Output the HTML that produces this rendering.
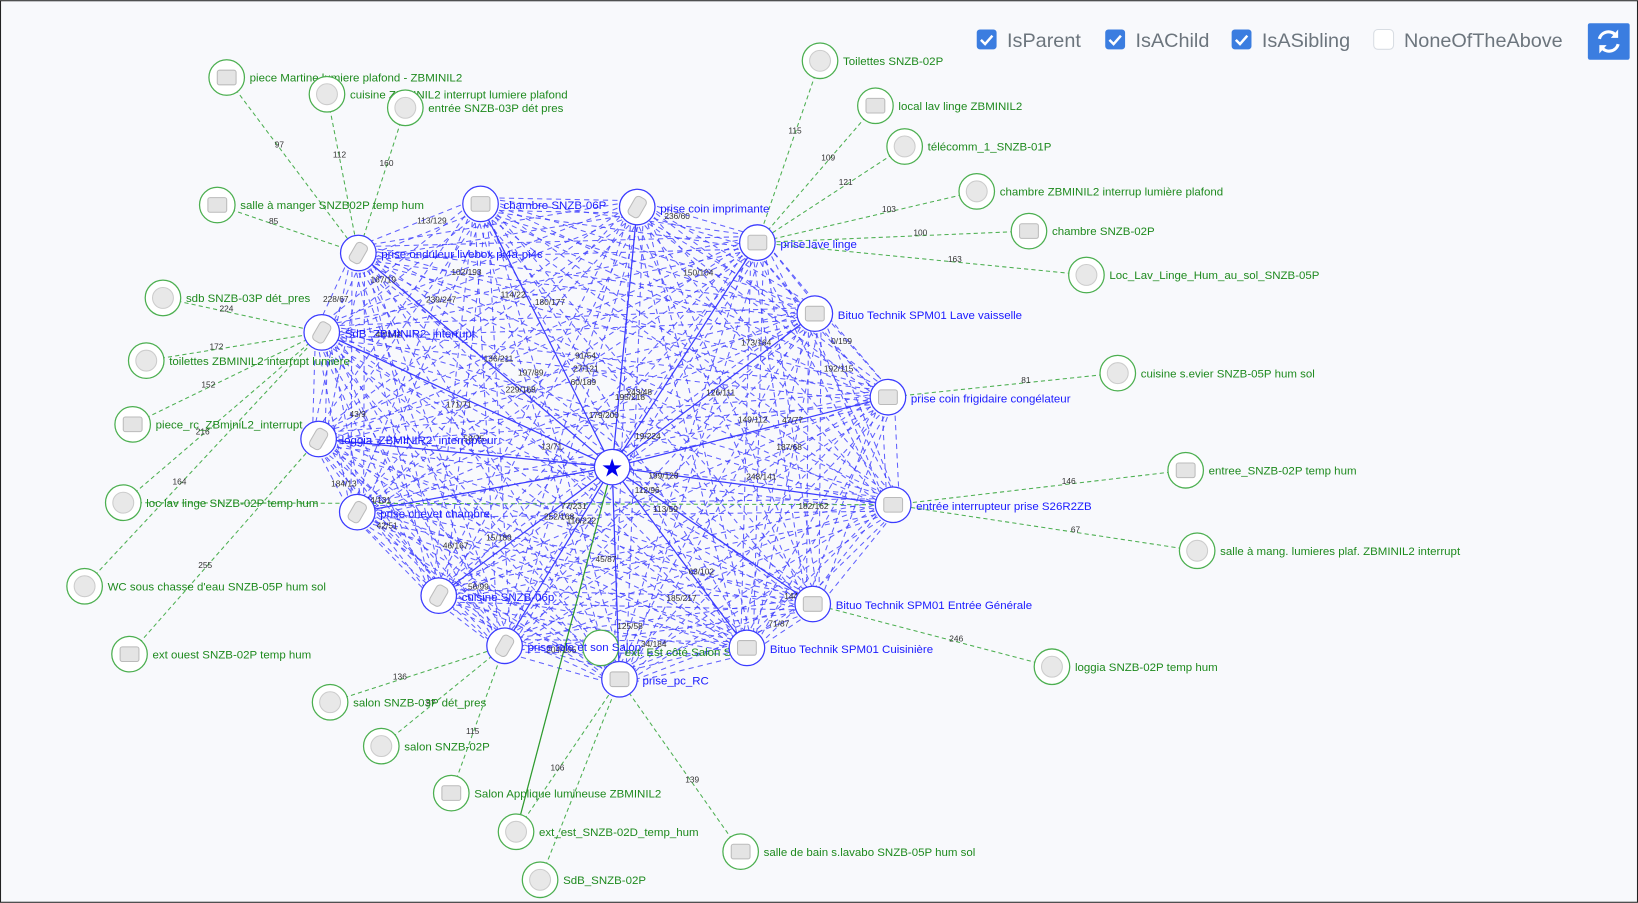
<!DOCTYPE html>
<html><head><meta charset="utf-8"><style>
html,body{margin:0;padding:0;background:#f8f9fc;}
body{width:1638px;height:903px;overflow:hidden;}
svg{display:block;}
</style></head><body>
<svg id="s" width="1638" height="903" viewBox="0 0 1568 864" xmlns="http://www.w3.org/2000/svg" font-family="Liberation Sans, DejaVu Sans, sans-serif">
<rect x="0.5" y="0.5" width="1567" height="863" fill="#f8f9fc" stroke="#222" stroke-width="1"/>
<g id="edges"></g><g id="labels"></g><g id="nodes"></g>
<g font-size="19" fill="#6c757d">
<rect x="935" y="28" width="19" height="19" rx="3" fill="#3b7de0"/><path d="M939 38 l4 4 l7 -8" stroke="#fff" stroke-width="2.4" fill="none"/>
<text x="964" y="45">IsParent</text>
<rect x="1058" y="28" width="19" height="19" rx="3" fill="#3b7de0"/><path d="M1062 38 l4 4 l7 -8" stroke="#fff" stroke-width="2.4" fill="none"/>
<text x="1087" y="45">IsAChild</text>
<rect x="1179" y="28" width="19" height="19" rx="3" fill="#3b7de0"/><path d="M1183 38 l4 4 l7 -8" stroke="#fff" stroke-width="2.4" fill="none"/>
<text x="1208" y="45">IsASibling</text>
<rect x="1315" y="28" width="19" height="19" rx="4" fill="#fff" stroke="#d8dde3"/>
<text x="1344" y="45">NoneOfTheAbove</text>
</g>
<rect x="1520" y="22" width="40" height="35" rx="2" fill="#3b7de0"/>
<g stroke="#fff" stroke-width="3" fill="none"><path d="M1531 37 a9 9 0 0 1 16 -3"/><path d="M1549 42 a9 9 0 0 1 -16 3"/></g>
<path d="M1549 28 l0 8 l-7 0 z M1531 51 l0 -8 l7 0 z" fill="#fff"/>
</svg>
<script>
var NS="http://www.w3.org/2000/svg";
function el(p,t,a,txt){var e=document.createElementNS(NS,t);for(var k in a)e.setAttribute(k,a[k]);if(txt!=null)e.textContent=txt;document.getElementById(p).appendChild(e);return e;}
var C=[586,447];
var B=[[460,195,"chambre SNZB-06P"],[610,198,"prise coin imprimante"],[725,232,"prise lave linge"],[343,242,"prise onduleur livebox pi4a-pi4c"],[780,300,"Bituo Technik SPM01 Lave vaisselle"],[308,318,"SdB_ZBMINIR2_interrupt"],[850,380,"prise coin frigidaire congélateur"],[305,420,"loggia_ZBMINIR2_interrupteur"],[855,483,"entrée interrupteur prise S26R2ZB"],[342,490,"prise chevet chambre"],[778,578,"Bituo Technik SPM01 Entrée Générale"],[420,570,"cuisine SNZB-06p"],[715,620,"Bituo Technik SPM01 Cuisinière"],[483,618,"prise tele et son Salon"],[593,650,"prise_pc_RC"]];
var G=[[217,74,"piece Martine lumiere plafond - ZBMINIL2",3,"97"],[313,90,"cuisine ZBMINIL2 interrupt lumiere plafond",3,"112"],[388,103,"entrée SNZB-03P dét pres",3,"160"],[208,196,"salle à manger SNZB02P temp hum",3,"85"],[156,285,"sdb SNZB-03P dét_pres",5,"224"],[140,345,"toilettes ZBMINIL2 interrupt lumiere",5,"172"],[127,406,"piece_rc_ZBminiL2_interrupt",5,"152"],[118,481,"loc lav linge SNZB-02P temp hum",5,"216"],[81,561,"WC sous chasse d'eau SNZB-05P hum sol",5,"164"],[124,626,"ext ouest SNZB-02P temp hum",7,"255"],[316,672,"salon SNZB-03P dét_pres",13,"136"],[365,714,"salon SNZB-02P",13,"97"],[432,759,"Salon Applique lumineuse ZBMINIL2",13,"115"],[494,796,"ext_est_SNZB-02D_temp_hum",14,"106"],[517,842,"SdB_SNZB-02P",14,""],[709,815,"salle de bain s.lavabo SNZB-05P hum sol",14,"139"],[1007,638,"loggia SNZB-02P temp hum",10,"246"],[1146,527,"salle à mang. lumieres plaf. ZBMINIL2 interrupt",8,"67"],[1135,450,"entree_SNZB-02P temp hum",8,"146"],[1070,357,"cuisine s.evier SNZB-05P hum sol",6,"81"],[1040,263,"Loc_Lav_Linge_Hum_au_sol_SNZB-05P",2,"163"],[985,221,"chambre SNZB-02P",2,"100"],[935,183,"chambre ZBMINIL2 interrup lumière plafond",2,"103"],[866,140,"télécomm_1_SNZB-01P",2,"121"],[838,101,"local lav linge ZBMINIL2",2,"109"],[785,58,"Toilettes SNZB-02P",2,"115"]];
var seed=7;function rnd(){seed=(seed*9301+49297)%233280;return seed/233280;}
// dashed mesh
for(var i=0;i<B.length;i++)for(var j=i+1;j<B.length;j++){
 var a=B[i],b=B[j];
 for(var k=0;k<2;k++){var off=(k?-6:6);var dx=b[0]-a[0],dy=b[1]-a[1],L=Math.hypot(dx,dy);var nx=-dy/L*off,ny=dx/L*off;
 el("edges","line",{x1:a[0]+nx,y1:a[1]+ny,x2:b[0]+nx,y2:b[1]+ny,stroke:"#3b3bff","stroke-width":"1","stroke-dasharray":"5,4",opacity:"0.8"});}
 if(rnd()<0.45){var t=0.3+rnd()*0.4;el("labels","text",{x:a[0]+(b[0]-a[0])*t,y:a[1]+(b[1]-a[1])*t,"font-size":"8",fill:"#333","text-anchor":"middle"},Math.floor(rnd()*255)+"/"+Math.floor(rnd()*255));}
}
// green dashed
G.forEach(function(g){var p=B[g[3]];el("edges","line",{x1:g[0],y1:g[1],x2:p[0],y2:p[1],stroke:"#4caf50","stroke-width":"1","stroke-dasharray":"4,3"});
 if(g[4])el("labels","text",{x:g[0]+(p[0]-g[0])*0.4,y:g[1]+(p[1]-g[1])*0.4,"font-size":"8",fill:"#333","text-anchor":"middle"},g[4]);});
el("edges","line",{x1:118,y1:481,x2:855,y2:483,stroke:"#4caf50","stroke-width":"1","stroke-dasharray":"4,3"});
el("edges","line",{x1:586,y1:447,x2:494,y2:796,stroke:"#2e9b2e","stroke-width":"1.2"});
// solid blue spokes
B.forEach(function(b){el("edges","line",{x1:C[0],y1:C[1],x2:b[0],y2:b[1],stroke:"#3b3bff","stroke-width":"1.2"});});
// nodes
function icon(x,y,kind){if(kind==0){el("nodes","rect",{x:x-9,y:y-7,width:18,height:14,rx:2,fill:"#e4e4e4",stroke:"#bbb"});}
 else if(kind==1){el("nodes","circle",{cx:x,cy:y,r:10,fill:"#e8e8e8",stroke:"#ccc"});}
 else {el("nodes","rect",{x:x-6,y:y-10,width:12,height:20,rx:4,fill:"#e6e6e6",stroke:"#bbb",transform:"rotate(30 "+x+" "+y+")"});}}
G.forEach(function(g,i){el("nodes","circle",{cx:g[0],cy:g[1],r:17,fill:"#fff",stroke:"#4caf50","stroke-width":"1.2"});icon(g[0],g[1],i%3==0?0:1);
 el("nodes","text",{x:g[0]+22,y:g[1]+4,"font-size":"11",fill:"#1e8a1e"},g[2]);});
el("nodes","circle",{cx:575,cy:620,r:17,fill:"#fff",stroke:"#4caf50","stroke-width":"1.2"});
el("nodes","text",{x:598,y:628,"font-size":"11",fill:"#1e8a1e"},"ext. Est côté Salon S");
B.forEach(function(b,i){el("nodes","circle",{cx:b[0],cy:b[1],r:17,fill:"#fff",stroke:"#3b3bff","stroke-width":"1.2"});icon(b[0],b[1],i%2?2:0);
 el("nodes","text",{x:b[0]+22,y:b[1]+5,"font-size":"11",fill:"#1a1aff"},b[2]);});
el("nodes","circle",{cx:586,cy:447,r:17,fill:"#fff",stroke:"#3b3bff","stroke-width":"1.2"});
el("nodes","text",{x:586,y:456,"font-size":"24",fill:"#0000ee","text-anchor":"middle"},"★");
</script>
</body></html>
